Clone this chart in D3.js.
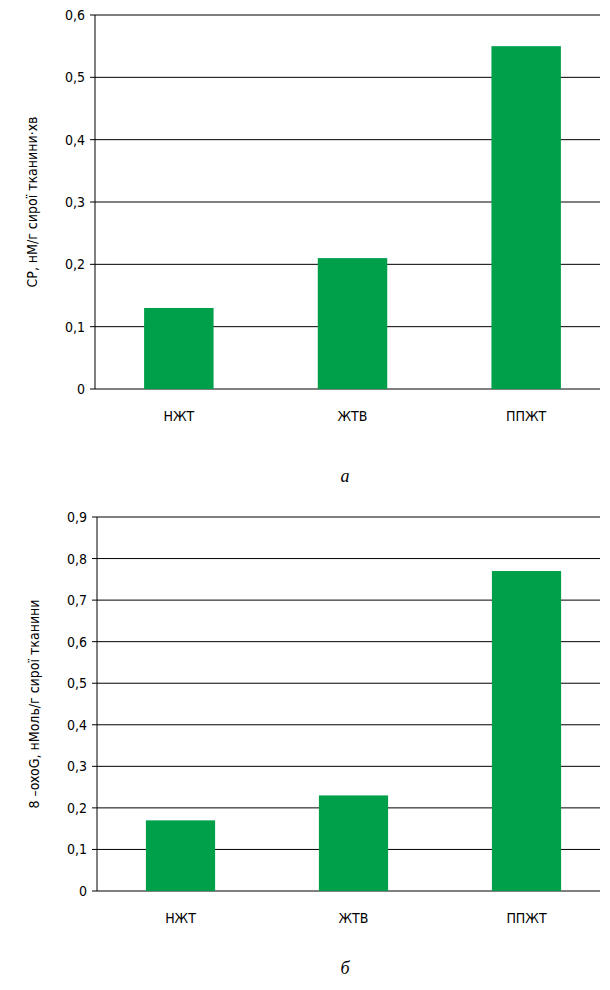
<!DOCTYPE html><html><head><meta charset="utf-8">
<script src="https://cdn.jsdelivr.net/npm/d3@7"></script>
<style>body{margin:0;background:#fff}text{font-family:"Liberation Sans Narrow","DejaVu Sans Condensed",sans-serif;font-size:14px;fill:#000}</style>
</head><body><svg id="c" width="610" height="990"></svg><script>
const categories=["НЖТ","ЖТВ","ППЖТ"];
const valuesA=[0.13,0.21,0.55];
const valuesB=[0.17,0.23,0.77];
const ticksA=[0,0.1,0.2,0.3,0.4,0.5,0.6];
const ticksB=[0,0.1,0.2,0.3,0.4,0.5,0.6,0.7,0.8,0.9];
const svg=d3.select("#c");
const fmt=v=>v===0?"0":String(v.toFixed(1)).replace(".",",");
function chart(vals,ticks,max,top,bottom,axisX,ylabel,letter,letterY){
  const g=svg.append("g");
  const y=d3.scaleLinear().domain([0,max]).range([bottom,top]);
  const x=d3.scaleBand().domain(categories).range([axisX-3,613]).paddingInner(0.6).paddingOuter(0.3);
  g.selectAll("line.g").data(ticks).join("line").attr("x1",axisX).attr("x2",600)
   .attr("y1",d=>y(d)).attr("y2",d=>y(d)).attr("stroke","#000").attr("stroke-width",1);
  g.selectAll("rect").data(vals).join("rect").attr("x",(d,i)=>x(categories[i])).attr("width",x.bandwidth())
   .attr("y",d=>y(d)).attr("height",d=>bottom-y(d)).attr("fill","#00a04b");
  g.append("line").attr("x1",axisX).attr("x2",axisX).attr("y1",top).attr("y2",bottom).attr("stroke","#000");
  g.selectAll("line.t").data(ticks).join("line").attr("x1",axisX-5).attr("x2",axisX).attr("y1",d=>y(d)).attr("y2",d=>y(d)).attr("stroke","#000");
  g.selectAll("text.t").data(ticks).join("text").attr("x",axisX-10).attr("y",d=>y(d)+5).attr("text-anchor","end").text(fmt);
  g.selectAll("text.c").data(categories).join("text").attr("x",d=>x(d)+x.bandwidth()/2).attr("y",bottom+32).attr("text-anchor","middle").text(d=>d);
  g.append("text").attr("transform",`translate(${axisX-58},${(top+bottom)/2}) rotate(-90)`).attr("text-anchor","middle").text(ylabel);
  g.append("text").attr("x",345).attr("y",letterY).attr("text-anchor","middle").style("font-family","Liberation Serif,serif").style("font-style","italic").style("font-size","18px").text(letter);
}
chart(valuesA,ticksA,0.6,15,389,95,"СР, нМ/г сирої тканини·хв","а",482);
chart(valuesB,ticksB,0.9,517,891,97,"8 –oxoG, нМоль/г сирої тканини","б",974);
</script></body></html>
